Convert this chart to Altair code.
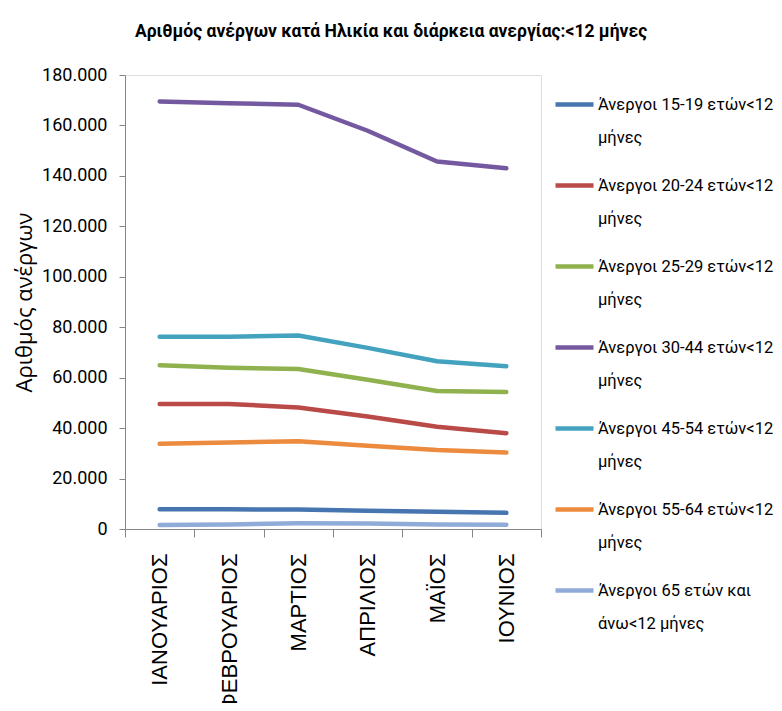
import altair as alt
import pandas as pd

months = ["ΙΑΝΟΥΑΡΙΟΣ", "ΦΕΒΡΟΥΑΡΙΟΣ", "ΜΑΡΤΙΟΣ", "ΑΠΡΙΛΙΟΣ", "ΜΑΪΟΣ", "ΙΟΥΝΙΟΣ"]

series_names = [
    "Άνεργοι 15-19 ετών<12\nμήνες",
    "Άνεργοι 20-24 ετών<12\nμήνες",
    "Άνεργοι 25-29 ετών<12\nμήνες",
    "Άνεργοι 30-44 ετών<12\nμήνες",
    "Άνεργοι 45-54 ετών<12\nμήνες",
    "Άνεργοι  55-64 ετών<12\nμήνες",
    "Άνεργοι 65 ετών και\nάνω<12 μήνες",
]

s15_19 = [7800, 7800, 7700, 7200, 6800, 6400]
s20_24 = [49600, 49600, 48200, 44600, 40500, 38000]
s25_29 = [64900, 63900, 63400, 59200, 54700, 54300]
s30_44 = [169500, 168800, 168200, 157900, 145700, 143000]
s45_54 = [76200, 76200, 76700, 71800, 66500, 64500]
s55_64 = [33800, 34300, 34800, 33000, 31300, 30300]
s65 = [1600, 1800, 2300, 2200, 1800, 1700]

colors = ["#4675B0", "#B94A47", "#8FB24F", "#7459A0", "#43A3BE", "#EC8A3E", "#8FABD8"]

y_ticks = [0, 20000, 40000, 60000, 80000, 100000, 120000, 140000, 160000, 180000]

all_series = [s15_19, s20_24, s25_29, s30_44, s45_54, s55_64, s65]
rows = []
for name, vals in zip(series_names, all_series):
    for m, v in zip(months, vals):
        rows.append({"month": m, "series": name, "value": v})
df = pd.DataFrame(rows)

chart = (
    alt.Chart(df)
    .mark_line(strokeWidth=4.5, strokeCap="round", strokeJoin="round")
    .encode(
        x=alt.X(
            "month:N",
            sort=months,
            scale=alt.Scale(type="band", paddingInner=0, paddingOuter=0),
            axis=alt.Axis(
                title=None,
                labelAngle=-90,
                labelAlign="right",
                labelBaseline="middle",
                labelFont="Liberation Sans",
                labelFontSize=22,
                labelColor="#000000",
                labelPadding=16,
                tickBand="extent",
                tickSize=8,
                tickColor="#868686",
                domainColor="#868686",
                grid=False,
            ),
        ),
        y=alt.Y(
            "value:Q",
            scale=alt.Scale(domain=[0, 180000], nice=False),
            axis=alt.Axis(
                title="Αριθμός ανέργων",
                values=y_ticks,
                labelExpr="replace(format(datum.value, ','), ',', '.')",
                labelFont="Roboto",
                labelFontSize=18,
                labelColor="#000000",
                labelPadding=12,
                tickSize=6,
                tickColor="#868686",
                domainColor="#868686",
                grid=False,
                titleFont="Open Sans",
                titleFontSize=22,
                titleFontWeight="normal",
                titleColor="#000000",
                titleX=-101,
                titleY=227,
                titleAngle=-90,
                titleAlign="center",
                titleBaseline="middle",
            ),
        ),
        color=alt.Color(
            "series:N",
            sort=series_names,
            scale=alt.Scale(domain=series_names, range=colors),
            legend=alt.Legend(
                title=None,
                orient="none",
                legendX=428,
                legendY=8,
                symbolType="stroke",
                symbolSize=1444,
                symbolStrokeWidth=4.5,
                labelExpr="split(datum.label, '\\n')",
                labelFont="Roboto",
                labelFontSize=16.5,
                labelColor="#000000",
                labelOffset=2,
                labelBaseline="middle",
                labelLimit=400,
                rowPadding=18,
            ),
        ),
    )
    .properties(
        width=416,
        height=454,
        title=alt.TitleParams(
            "Αριθμός ανέργων κατά Ηλικία και διάρκεια ανεργίας:<12 μήνες",
            font="Roboto",
            fontSize=17.5,
            fontWeight="bold",
            color="#000000",
            anchor="middle",
            dx=58,
            offset=26,
        ),
        autosize=alt.AutoSizeParams(type="none"),
        padding={"left": 117, "top": 67, "right": 233, "bottom": 174},
    )
    .configure_view(stroke=None)
    .configure(style={"guide-label": {"lineHeight": 33}})
)

chart.save("out.html", embed_options={"renderer": "svg", "actions": False})
